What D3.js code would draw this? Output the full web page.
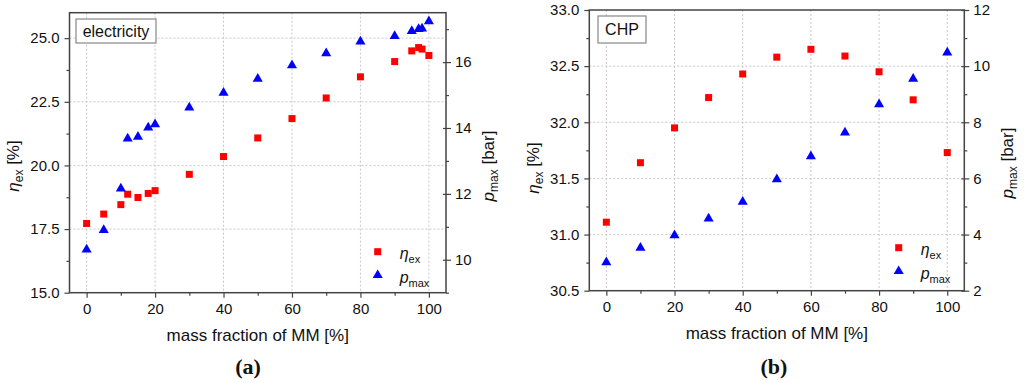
<!DOCTYPE html>
<html><head><meta charset="utf-8">
<script src="https://cdn.jsdelivr.net/npm/d3@7"></script>
<style>
html,body{margin:0;padding:0;background:#fff;}
svg{display:block;font-family:"Liberation Sans",Arial,sans-serif;}
</style></head>
<body>
<svg id="chart" width="1024" height="383"></svg>
<script>
// ---- data ----
const fracA = [0,5,10,12,15,18,20,30,40,50,60,70,80,90,95,97,98,100];
const etaA  = [17.72,18.09,18.46,18.87,18.74,18.90,19.01,19.65,20.35,21.08,21.84,22.65,23.48,24.08,24.50,24.63,24.57,24.32];
const pmaxA = [10.31,10.90,12.16,13.68,13.73,14.01,14.11,14.62,15.07,15.49,15.90,16.27,16.62,16.79,16.94,17.00,17.02,17.24];

const fracB = [0,10,20,30,40,50,60,70,80,90,100];
const etaB  = [31.11,31.64,31.95,32.22,32.43,32.58,32.65,32.59,32.45,32.20,31.73];
const pmaxB = [3.01,3.53,3.97,4.57,5.17,5.97,6.79,7.63,8.64,9.55,10.48];

const xTicks = [0,20,40,60,80,100];
const xMinor = [10,30,50,70,90];
const leftTicksA = [15,17.5,20,22.5,25];
const leftMinorA = [16.25,18.75,21.25,23.75];
const rightTicksA = [10,12,14,16];
const rightMinorA = [9,11,13,15,17];
const leftTicksB = [30.5,31,31.5,32,32.5,33];
const leftMinorB = [30.75,31.25,31.75,32.25,32.75];
const rightTicksB = [2,4,6,8,10,12];
const rightMinorB = [3,5,7,9,11];

const svg = d3.select("#chart");

function panel(cfg){
  const g = svg.append("g");
  const x = d3.scaleLinear().domain([-5,105]).range([cfg.l, cfg.r]);
  const yL = d3.scaleLinear().domain(cfg.yLdom).range([cfg.b, cfg.t]);
  const yR = d3.scaleLinear().domain(cfg.yRdom).range([cfg.b, cfg.t]);
  const frame = "#444";

  // grid
  g.append("g").selectAll("line").data(xTicks).join("line")
    .attr("x1", d=>x(d)).attr("x2", d=>x(d)).attr("y1", cfg.t).attr("y2", cfg.b)
    .attr("stroke", "#cfc4c6").attr("stroke-width",1).attr("stroke-dasharray","2,2");
  g.append("g").selectAll("line").data(cfg.leftTicks.filter(d=>d>cfg.yLdom[0] && d<cfg.yLdom[1])).join("line")
    .attr("x1", cfg.l).attr("x2", cfg.r).attr("y1", d=>yL(d)).attr("y2", d=>yL(d))
    .attr("stroke", "#c8c8c8").attr("stroke-width",1).attr("stroke-dasharray","2,2");

  // axes
  g.append("g").attr("transform",`translate(0,${cfg.b})`)
    .call(d3.axisBottom(x).tickValues(xTicks).tickSize(5).tickPadding(6).tickFormat(d3.format("d")));
  g.append("g").attr("transform",`translate(0,${cfg.b})`)
    .call(d3.axisBottom(x).tickValues(xMinor).tickSize(3).tickFormat(""));
  g.append("g").attr("transform",`translate(${cfg.l},0)`)
    .call(d3.axisLeft(yL).tickValues(cfg.leftTicks).tickSize(5).tickPadding(5).tickFormat(d3.format(".1f")));
  g.append("g").attr("transform",`translate(${cfg.l},0)`)
    .call(d3.axisLeft(yL).tickValues(cfg.leftMinor).tickSize(3).tickFormat(""));
  const ayr = g.append("g").attr("transform",`translate(${cfg.r},0)`)
    .call(d3.axisRight(yR).tickValues(cfg.rightTicks).tickSize(5).tickPadding(4).tickFormat(d3.format("d")));
  g.append("g").attr("transform",`translate(${cfg.r},0)`)
    .call(d3.axisRight(yR).tickValues(cfg.rightMinor).tickSize(3).tickFormat(""));
  g.selectAll(".domain").remove();
  g.selectAll(".tick line").attr("stroke", frame).attr("stroke-width",1.2);
  g.selectAll(".tick text").attr("font-size","15px").attr("fill","#111")
    .attr("font-family",'"Liberation Sans",Arial,sans-serif');
  ayr.selectAll(".tick line").attr("x1",-3);

  // frame
  g.append("rect").attr("x",cfg.l).attr("y",cfg.t).attr("width",cfg.r-cfg.l).attr("height",cfg.b-cfg.t)
    .attr("fill","none").attr("stroke",frame).attr("stroke-width",1.5);

  // data
  const sq = 7;
  g.append("g").selectAll("rect").data(cfg.frac.map((f,i)=>[f,cfg.eta[i]])).join("rect")
    .attr("x", d=>x(d[0])-sq/2).attr("y", d=>yL(d[1])-sq/2).attr("width",sq).attr("height",sq)
    .attr("fill","#ff0000");
  const tri = d3.symbol().type(d3.symbolTriangle).size(44);
  g.append("g").selectAll("path").data(cfg.frac.map((f,i)=>[f,cfg.pmax[i]])).join("path")
    .attr("d", tri).attr("transform", d=>`translate(${x(d[0])},${yR(d[1])})`)
    .attr("fill","#0000ff");

  // label box
  g.append("rect").attr("x",cfg.box[0]).attr("y",cfg.box[1]).attr("width",cfg.box[2]).attr("height",cfg.box[3])
    .attr("fill","#fff").attr("stroke","#888").attr("stroke-width",1.2);
  g.append("text").attr("x",cfg.box[0]+cfg.box[2]/2).attr("y",cfg.box[1]+cfg.box[3]/2+5.5)
    .attr("text-anchor","middle").attr("font-size","16px").attr("fill","#111").text(cfg.title);

  // legend
  const lx = cfg.leg[0], ly = cfg.leg[1];
  g.append("rect").attr("x",lx-sq/2).attr("y",ly-sq/2).attr("width",sq).attr("height",sq).attr("fill","#ff0000");
  g.append("path").attr("d",tri).attr("transform",`translate(${lx},${ly+23.5})`).attr("fill","#0000ff");
  const t1 = g.append("text").attr("x",lx+22).attr("y",ly+7).attr("font-size","16px").attr("fill","#111");
  t1.append("tspan").attr("font-style","italic").text("η");
  t1.append("tspan").attr("font-size","11px").attr("dy",4).text("ex");
  const t2 = g.append("text").attr("x",lx+22).attr("y",ly+31).attr("font-size","16px").attr("fill","#111");
  t2.append("tspan").attr("font-style","italic").text("p");
  t2.append("tspan").attr("font-size","11px").attr("dy",4).text("max");

  // axis titles
  g.append("text").attr("x",(cfg.l+cfg.r)/2).attr("y",cfg.xtY).attr("text-anchor","middle")
    .attr("font-size","17px").attr("fill","#111").text("mass fraction of MM [%]");
  const yl = g.append("text").attr("transform",`translate(${cfg.ylX},${cfg.ylY}) rotate(-90)`)
    .attr("text-anchor","middle").attr("font-size","17px").attr("fill","#111");
  yl.append("tspan").attr("font-style","italic").text("η");
  yl.append("tspan").attr("font-size","12px").attr("dy",4).text("ex");
  yl.append("tspan").attr("dy",-4).text(" [%]");
  const yr = g.append("text").attr("transform",`translate(${cfg.yrX},${cfg.yrY}) rotate(-90)`)
    .attr("text-anchor","middle").attr("font-size","17px").attr("fill","#111");
  yr.append("tspan").attr("font-style","italic").text("p");
  yr.append("tspan").attr("font-size","12px").attr("dy",4).text("max");
  yr.append("tspan").attr("dy",-4).text(" [bar]");

  // panel letter
  g.append("text").attr("x",cfg.letX).attr("y",374).attr("text-anchor","middle")
    .attr("font-family",'"Liberation Serif","Times New Roman",serif').attr("font-size","22px")
    .attr("font-weight","bold").attr("fill","#111").text("(" + cfg.letter + ")");
}

panel({l:69.5, r:446, t:12.7, b:292.7, yLdom:[15,26], yRdom:[9,17.5],
  leftTicks:leftTicksA, leftMinor:leftMinorA, rightTicks:rightTicksA, rightMinor:rightMinorA,
  frac:fracA, eta:etaA, pmax:pmaxA, box:[76,19,80,24], title:"electricity",
  leg:[377.7,251.7], xtY:341, ylX:19, ylY:166, yrX:494, yrY:166, letX:248, letter:"a"});

panel({l:589.3, r:964.3, t:10, b:290.7, yLdom:[30.5,33], yRdom:[2,12],
  leftTicks:leftTicksB, leftMinor:leftMinorB, rightTicks:rightTicksB, rightMinor:rightMinorB,
  frac:fracB, eta:etaB, pmax:pmaxB, box:[598,16,48,27], title:"CHP",
  leg:[898.7,247.7], xtY:339, ylX:539, ylY:168, yrX:1013, yrY:163, letX:774, letter:"b"});
</script>
</body></html>
